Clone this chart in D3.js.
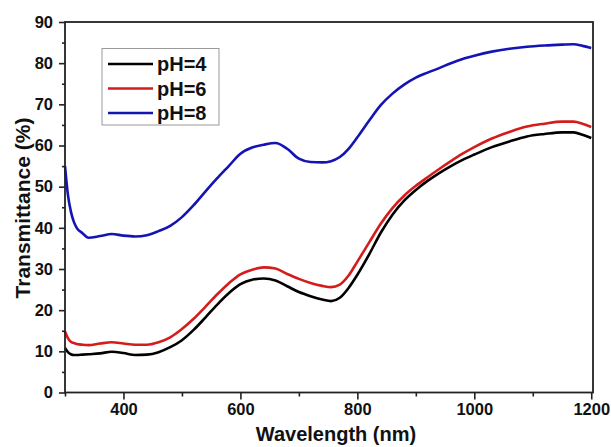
<!DOCTYPE html>
<html>
<head>
<meta charset="utf-8">
<script src="https://cdn.jsdelivr.net/npm/d3@7"></script>
<style>
  html, body { margin: 0; padding: 0; background: #fff; }
  svg { display: block; }
  text { font-family: "Liberation Sans", Arial, sans-serif; font-weight: bold; fill: #111; }
</style>
</head>
<body>
<svg id="chart" width="611" height="447"></svg>
<script>
// ---- Data ----
const wavelength = [300, 305, 310, 315, 320, 330, 340, 360, 380, 400, 420, 440, 460, 480, 500, 520, 540, 560, 580, 600, 620, 640, 660, 680, 700, 720, 740, 755, 770, 785, 800, 820, 840, 860, 880, 900, 920, 940, 960, 980, 1000, 1030, 1060, 1090, 1120, 1150, 1170, 1185, 1200];

const pH4 = [10.8, 9.8, 9.3, 9.1, 9.1, 9.2, 9.3, 9.5, 9.9, 9.6, 9.1, 9.2, 9.8, 11.0, 12.7, 15.2, 18.2, 21.3, 24.1, 26.3, 27.4, 27.7, 27.2, 25.8, 24.4, 23.4, 22.6, 22.2, 23.0, 25.4, 28.6, 33.5, 38.8, 43.2, 46.6, 49.2, 51.4, 53.3, 55.0, 56.5, 57.8, 59.6, 61.0, 62.2, 62.8, 63.2, 63.2, 62.6, 61.8];

const pH6 = [14.8, 13.2, 12.3, 12.0, 11.8, 11.6, 11.5, 11.9, 12.2, 11.9, 11.6, 11.6, 12.2, 13.4, 15.4, 17.9, 20.8, 23.8, 26.5, 28.7, 29.8, 30.4, 30.1, 28.8, 27.6, 26.6, 25.9, 25.6, 26.2, 28.4, 31.8, 36.4, 41.0, 44.8, 47.8, 50.2, 52.3, 54.3, 56.2, 58.0, 59.6, 61.7, 63.3, 64.6, 65.3, 65.8, 65.8, 65.3, 64.5];

const pH8 = [55.0, 48.0, 44.0, 41.5, 40.0, 38.7, 37.6, 38.0, 38.5, 38.1, 37.9, 38.2, 39.2, 40.5, 42.6, 45.5, 48.8, 52.0, 55.0, 58.0, 59.5, 60.2, 60.6, 59.2, 56.8, 56.0, 55.9, 56.2, 57.2, 59.2, 62.0, 66.0, 69.8, 72.6, 74.8, 76.5, 77.7, 78.8, 80.0, 81.0, 81.8, 82.8, 83.5, 84.0, 84.3, 84.5, 84.6, 84.2, 83.7];

const seriesNames = ["pH=4", "pH=6", "pH=8"];
const seriesValues = [pH4, pH6, pH8];
const seriesColors = ["#000000", "#d41c1c", "#1414b4"];

const xMajorTicks = [400, 600, 800, 1000, 1200];
const xMinorTicks = [300, 500, 700, 900, 1100];
const yMajorTicks = [0, 10, 20, 30, 40, 50, 60, 70, 80, 90];
const yMinorTicks = [5, 15, 25, 35, 45, 55, 65, 75, 85];

const xTitle = "Wavelength (nm)";
const yTitle = "Transmittance (%)";

// ---- Layout ----
const plot = { left: 65, right: 593, top: 22, bottom: 392.5 };
const svg = d3.select("#chart");

const x = d3.scaleLinear().domain([300, 1203]).range([plot.left, plot.right]);
const y = d3.scaleLinear().domain([0, 90]).range([plot.bottom, plot.top]);

// lines
const line = d3.line()
  .x((d, i) => x(wavelength[i]))
  .y(d => y(d))
  .curve(d3.curveMonotoneX);

seriesValues.forEach((vals, k) => {
  svg.append("path")
    .datum(vals)
    .attr("fill", "none")
    .attr("stroke", seriesColors[k])
    .attr("stroke-width", 2.6)
    .attr("stroke-linejoin", "round")
    .attr("d", line);
});

// Frame
const axisColor = "#222";
svg.append("rect")
  .attr("x", plot.left).attr("y", plot.top)
  .attr("width", plot.right - plot.left).attr("height", plot.bottom - plot.top)
  .attr("fill", "none").attr("stroke", axisColor).attr("stroke-width", 1.8);

// X axis
const xAxis = svg.append("g").attr("transform", `translate(0,${plot.bottom})`)
  .call(d3.axisBottom(x).tickValues(xMajorTicks).tickSize(7).tickPadding(4).tickFormat(d3.format("d")));
const xMinor = svg.append("g").attr("transform", `translate(0,${plot.bottom})`)
  .call(d3.axisBottom(x).tickValues(xMinorTicks).tickSize(4).tickFormat(""));

// Y axis
const yAxis = svg.append("g").attr("transform", `translate(${plot.left},0)`)
  .call(d3.axisLeft(y).tickValues(yMajorTicks).tickSize(6).tickPadding(6).tickFormat(d3.format("d")));
const yMinor = svg.append("g").attr("transform", `translate(${plot.left},0)`)
  .call(d3.axisLeft(y).tickValues(yMinorTicks).tickSize(3).tickFormat(""));

[xAxis, xMinor, yAxis, yMinor].forEach(g => {
  g.select(".domain").remove();
  g.selectAll(".tick line").attr("stroke", axisColor).attr("stroke-width", 1.6);
  g.selectAll(".tick text")
    .attr("fill", "#111")
    .style("font-family", '"Liberation Sans", Arial, sans-serif')
    .style("font-weight", "bold")
    .style("font-size", "16.5px");
});

// Axis titles
svg.append("text")
  .attr("x", 336).attr("y", 441)
  .attr("text-anchor", "middle")
  .style("font-size", "20px")
  .text(xTitle);

svg.append("text")
  .attr("transform", `translate(30,208) rotate(-90)`)
  .attr("text-anchor", "middle")
  .style("font-size", "21px")
  .text(yTitle);

// Legend
const legend = svg.append("g");
legend.append("rect")
  .attr("x", 102).attr("y", 48.5).attr("width", 117).attr("height", 76.5)
  .attr("fill", "#fff").attr("stroke", "#999").attr("stroke-width", 1);
const rowY = [64, 88.5, 113];
seriesNames.forEach((name, k) => {
  legend.append("line")
    .attr("x1", 108).attr("x2", 153)
    .attr("y1", rowY[k]).attr("y2", rowY[k])
    .attr("stroke", seriesColors[k]).attr("stroke-width", 2.6);
  legend.append("text")
    .attr("x", 157).attr("y", rowY[k] + 7)
    .style("font-size", "20px")
    .text(name);
});
</script>
</body>
</html>
